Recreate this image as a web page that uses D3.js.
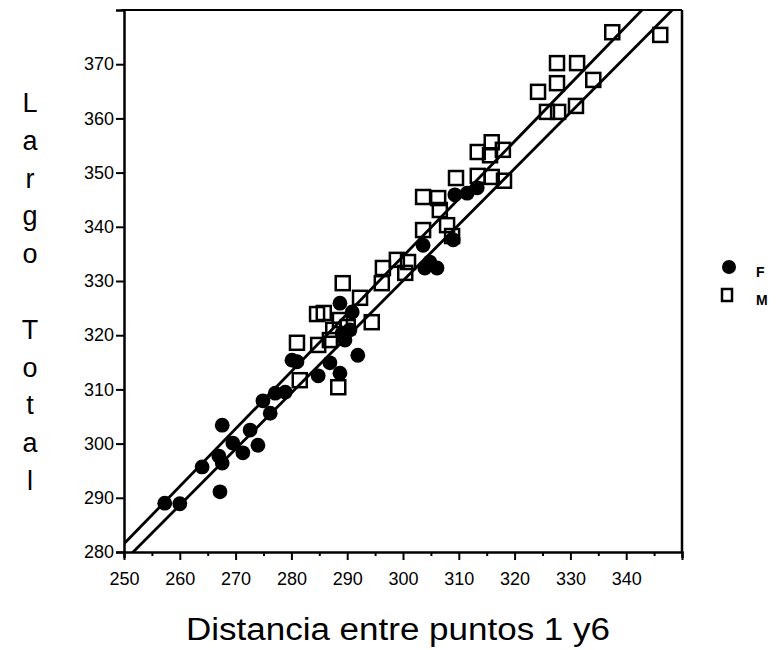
<!DOCTYPE html>
<html>
<head>
<meta charset="utf-8">
<script src="https://cdn.jsdelivr.net/npm/d3@7"></script>
<style>
  body { margin: 0; background: #fff; }
  svg text { font-family: "Liberation Sans", Arial, sans-serif; }
</style>
</head>
<body>
<div id="chart"></div>
<script>
// hembras (F) - circulos llenos
let fX = [257.3, 260.0, 264.0, 267.2, 267.6, 267.0, 267.6, 269.5, 271.3, 272.6, 274.0, 274.9,
          276.2, 277.1, 278.9, 280.1, 281.0, 284.8, 286.9, 288.7, 291.9, 288.7, 290.9, 289.1,
          290.5, 289.6, 303.6, 304.8, 306.1, 309.0, 309.3, 311.5, 313.3, 303.9];
let fY = [289.0, 288.9, 295.7, 291.1, 303.4, 297.7, 296.4, 300.1, 298.3, 302.5, 299.7, 307.9,
          305.6, 309.3, 309.5, 315.4, 315.1, 312.5, 314.9, 313.0, 316.3, 325.9, 324.3, 320.4,
          321.0, 319.1, 336.6, 333.5, 332.4, 337.6, 345.9, 346.2, 347.2, 332.4];

// machos (M) - cuadrados vacios
let mX = [346.1, 337.5, 327.6, 331.2, 327.6, 334.1, 324.2, 325.8, 327.8, 331.0, 315.9, 313.4,
          315.6, 317.9, 309.5, 313.4, 315.9, 318.1, 303.6, 306.3, 306.6, 307.9, 303.6, 308.8,
          298.9, 296.4, 300.4, 296.2, 292.3, 289.2, 294.4, 284.6, 285.8, 281.0, 284.8, 287.5,
          281.5, 288.4, 288.7, 290.1, 286.9, 300.9];
let mY = [375.4, 375.9, 370.2, 370.2, 366.5, 367.1, 364.9, 361.2, 361.2, 362.3, 355.6, 353.8,
          353.2, 354.2, 349.0, 349.4, 349.2, 348.5, 345.5, 345.3, 343.1, 340.3, 339.4, 338.3,
          333.9, 332.4, 331.5, 329.6, 326.9, 329.6, 322.4, 323.9, 324.1, 318.6, 318.2, 321.0,
          311.7, 310.4, 322.8, 321.5, 319.1, 333.5];

// rectas de regresion: y = a + b * (x - 250)
let lineIntercepts = [281.5, 278.3];
let lineSlopes = [1.061, 1.035];

let xTicks = [250, 260, 270, 280, 290, 300, 310, 320, 330, 340];
let yTicks = [280, 290, 300, 310, 320, 330, 340, 350, 360, 370];
let legendLabels = ['F', 'M'];

let W = 779, H = 650;
let margin = { top: 10, right: 97, bottom: 98, left: 124 };
let innerW = W - margin.left - margin.right, innerH = H - margin.top - margin.bottom;

let svg = d3.select('#chart').append('svg').attr('width', W).attr('height', H);
let g = svg.append('g').attr('transform', 'translate(' + margin.left + ',' + margin.top + ')');

let x = d3.scaleLinear().domain([250, 350]).range([0, innerW]);
let y = d3.scaleLinear().domain([280, 380]).range([innerH, 0]);

g.append('clipPath').attr('id', 'clip').append('rect')
    .attr('width', innerW).attr('height', innerH);

// ejes
let xAxis = g.append('g').attr('transform', 'translate(0,' + innerH + ')')
    .call(d3.axisBottom(x).tickValues(d3.range(250, 351, 5)).tickSize(6)
        .tickFormat(d => xTicks.includes(d) ? d : ''));
xAxis.selectAll('.tick line').attr('y2', d => d % 10 === 0 ? 8 : 4);

let yAxis = g.append('g')
    .call(d3.axisLeft(y).tickValues(yTicks).tickSize(8).tickPadding(2));

[xAxis, yAxis].forEach(ax => {
    ax.attr('font-family', null).attr('font-size', 18);
    ax.select('.domain').attr('stroke-width', 2.5);
    ax.selectAll('.tick line').attr('stroke-width', 2);
    ax.selectAll('.tick text').attr('font-size', 18).attr('fill', '#000');
});
xAxis.selectAll('.tick text').attr('dy', '1.35em');

// marco superior y derecho
g.append('line').attr('x1', -3).attr('x2', innerW).attr('y1', 0).attr('y2', 0)
    .attr('stroke', '#000').attr('stroke-width', 2);
g.append('line').attr('x1', innerW).attr('x2', innerW).attr('y1', 0).attr('y2', innerH)
    .attr('stroke', '#000').attr('stroke-width', 2.5);

let plot = g.append('g').attr('clip-path', 'url(#clip)');

plot.selectAll('circle.f').data(fX).enter().append('circle')
    .attr('class', 'f')
    .attr('cx', d => x(d)).attr('cy', (d, i) => y(fY[i])).attr('r', 7.4)
    .attr('fill', '#000');

let sq = 14;
plot.selectAll('rect.m').data(mX).enter().append('rect')
    .attr('class', 'm')
    .attr('x', d => x(d) - sq / 2).attr('y', (d, i) => y(mY[i]) - sq / 2)
    .attr('width', sq).attr('height', sq)
    .attr('fill', 'none').attr('stroke', '#000').attr('stroke-width', 2.5);

lineIntercepts.forEach((a, i) => {
    let b = lineSlopes[i];
    plot.append('line')
        .attr('x1', x(250)).attr('y1', y(a))
        .attr('x2', x(350)).attr('y2', y(a + b * 100))
        .attr('stroke', '#000').attr('stroke-width', 2.8);
});

// titulos
svg.append('text').text('Distancia entre puntos 1 y6')
    .attr('x', 398).attr('y', 640).attr('text-anchor', 'middle')
    .attr('font-size', 31).attr('textLength', 424).attr('lengthAdjust', 'spacingAndGlyphs')
    .attr('fill', '#000');

let yTitle = svg.append('text').attr('text-anchor', 'middle')
    .attr('font-size', 27).attr('fill', '#000');
'Largo Total'.split('').forEach((c, i) => {
    yTitle.append('tspan').attr('x', 30).attr('y', 112 + i * 37.8).text(c);
});

// leyenda
let leg = svg.append('g');
leg.append('circle').attr('cx', 729).attr('cy', 267).attr('r', 7).attr('fill', '#000');
leg.append('rect').attr('x', 722).attr('y', 289).attr('width', 10).attr('height', 12)
    .attr('fill', 'none').attr('stroke', '#000').attr('stroke-width', 2.5);
legendLabels.forEach((t, i) => {
    leg.append('text').text(t).attr('x', 756).attr('y', 277 + i * 28)
        .attr('font-size', 14).attr('font-weight', 'bold').attr('fill', '#000');
});
</script>
</body>
</html>
